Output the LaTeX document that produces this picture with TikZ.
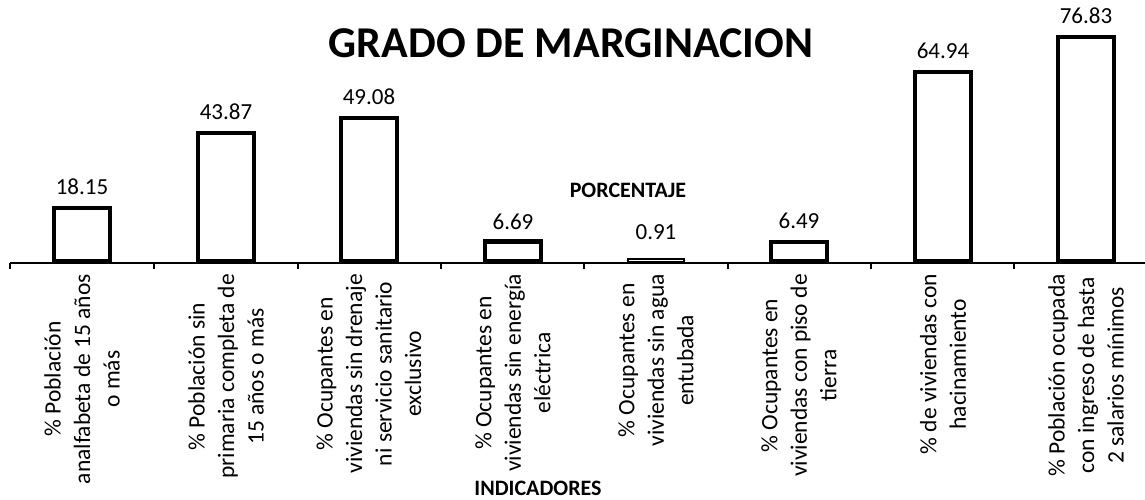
\documentclass[tikz,border=0pt]{standalone}
\usepackage{fontspec}
\setmainfont{Carlito}
\usepackage{tikz}
\usetikzlibrary{positioning}

\begin{document}
\begin{tikzpicture}[x = 1pt, y = -1pt,
				bar/.style = {draw, line width = 4.5pt, fill = white, inner sep = 0pt,
				minimum width = 56pt, anchor = south, minimum height = #1*2.91pt},
				val/.style = {inner sep = 0pt, font = \fontsize{23}{27}\selectfont},
				lab/.style = {rotate = 90, anchor = east, inner sep = 0pt, align = center,
				font = \fontsize{23.5}{29.5}\selectfont},
				head/.style = {inner sep = 0pt, font = \bfseries\fontsize{22}{26}\selectfont}]

				\useasboundingbox (0,0) rectangle (1145,500);
				\clip (0,0) rectangle (1145,500);

				\node [inner sep = 0pt, font = \bfseries\fontsize{44}{50}\selectfont] (title) at (571,43) {GRADO DE MARGINACION};
				\node [head] (porc) at (628,190) {PORCENTAJE};
				\node [head] (ind) at (538,488) {INDICADORES};

				% eje
				\coordinate (ax_l) at (10,263);
				\coordinate (ax_r) at (1145,263);
				\draw [line width = 2pt] (ax_l) -- (ax_r);
				\foreach \t in {10,154,298,441,584,728,871,1014}
					\draw [line width = 1.5pt] (\t,263) -- ++(0,6);

				% barras
				\node [bar = 18.15] (b_1) at (82,263) {};
				\node [bar = 43.87] (b_2) at (226,263) {};
				\node [bar = 49.08] (b_3) at (369,263) {};
				\node [bar = 6.69] (b_4) at (513,263) {};
				\node [bar = 0.91, line width = 2pt] (b_5) at (656,263) {};
				\node [bar = 6.49] (b_6) at (799,263) {};
				\node [bar = 64.94] (b_7) at (943,263) {};
				\node [bar = 76.83] (b_8) at (1086,263) {};

				\node [val, above = 11pt of b_1] (v_1) {18.15};
				\node [val, above = 11pt of b_2] (v_2) {43.87};
				\node [val, above = 11pt of b_3] (v_3) {49.08};
				\node [val, above = 9pt of b_4] (v_4) {6.69};
				\node [val, above = 18pt of b_5] (v_5) {0.91};
				\node [val, above = 11pt of b_6] (v_6) {6.49};
				\node [val, above = 11pt of b_7] (v_7) {64.94};
				\node [val, above = 11pt of b_8] (v_8) {76.83};

				% indicadores
				\node [lab] (l_1) at (82,274) {\% Población\\analfabeta de 15 años\\o más};
				\node [lab] (l_2) at (226,274) {\% Población sin\\primaria completa de\\15 años o más};
				\node [lab] (l_3) at (369,274) {\% Ocupantes en\\viviendas sin drenaje\\ni servicio sanitario\\exclusivo};
				\node [lab] (l_4) at (513,274) {\% Ocupantes en\\viviendas sin energía\\eléctrica};
				\node [lab] (l_5) at (656,274) {\% Ocupantes en\\viviendas sin agua\\entubada};
				\node [lab] (l_6) at (799,274) {\% Ocupantes en\\viviendas con piso de\\tierra};
				\node [lab] (l_7) at (943,274) {\% de viviendas con\\hacinamiento};
				\node [lab] (l_8) at (1086,274) {\% Población ocupada\\con ingreso de hasta\\2 salarios mínimos};
\end{tikzpicture}
\end{document}
